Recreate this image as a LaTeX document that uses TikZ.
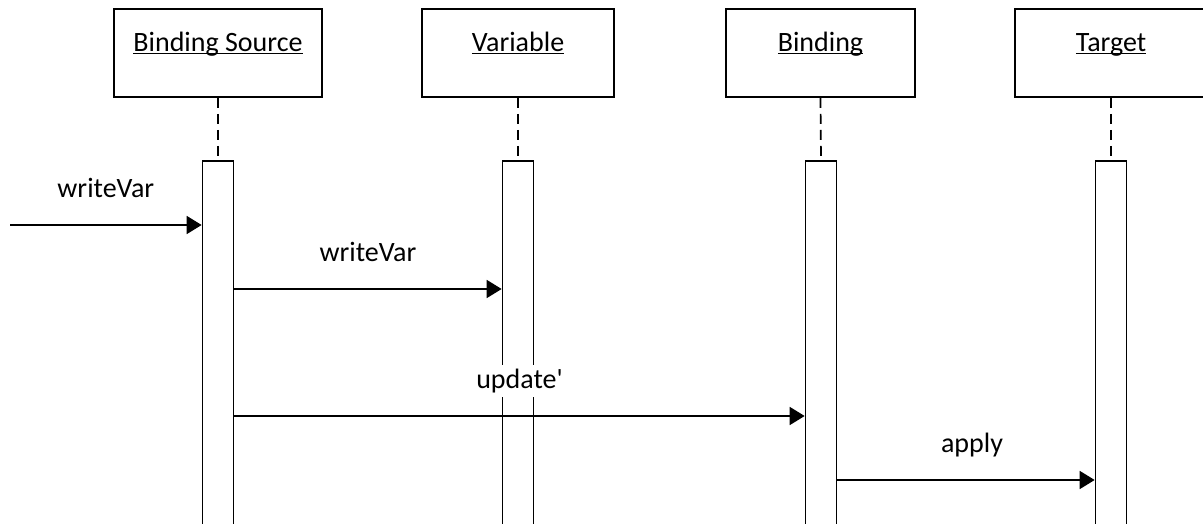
\documentclass[tikz,border=0pt]{standalone}
\usepackage{fontspec}
\setmainfont{Carlito}
\usetikzlibrary{arrows.meta}

\begin{document}
\begin{tikzpicture}[x=1pt,y=-1pt,
    font=\fontsize{28}{34}\selectfont,
    lifebox/.style={draw,line width=1.7pt,minimum width=192pt,minimum height=88pt,inner sep=0pt},
    actbar/.style={draw,fill=white,line width=1.7pt,minimum width=31pt,minimum height=380pt,inner sep=0pt,anchor=north},
    lifeline/.style={line width=1.7pt,dash pattern=on 10pt off 6pt},
    msg/.style={line width=1.7pt,-{Triangle[length=15pt,width=18pt]}},
    msglabel/.style={midway,anchor=base,yshift=28pt,inner sep=4pt}]
      \clip (0,0) rectangle (1203,524);
      % objects
      \node[lifebox,minimum width=208pt] (src) at (218,53) {\underline{\smash{Binding Source}}};
      \node[lifebox] (var) at (518,53) {\underline{\smash{Variable}}};
      \node[lifebox,minimum width=189pt] (bnd) at (820.5,53) {\underline{\smash{Binding}}};
      \node[lifebox] (tgt) at (1111,53) {\underline{\smash{Target}}};
      % activations
      \node[actbar] (srcbar) at (218,160) {};
      \node[actbar] (varbar) at (518,160) {};
      \node[actbar] (bndbar) at (821,160) {};
      \node[actbar] (tgtbar) at (1111,160) {};
      \draw[lifeline] (src.south) -- (srcbar.north);
      \draw[lifeline] (var.south) -- (varbar.north);
      \draw[lifeline] (bnd.south) -- (bndbar.north);
      \draw[lifeline] (tgt.south) -- (tgtbar.north);
      % messages
      \coordinate (m0) at (10,225);
      \coordinate (m1) at (0,289);
      \coordinate (m2) at (0,416);
      \coordinate (m3) at (0,480);
      \draw[msg] (m0) -- (m0 -| srcbar.west) node[msglabel] {writeVar};
      \draw[msg] (srcbar.east |- m1) -- (varbar.west |- m1) node[msglabel] {writeVar};
      \draw[msg] (srcbar.east |- m2) -- (bndbar.west |- m2) node[msglabel,fill=white] {update\textquotesingle};
      \draw[msg] (bndbar.east |- m3) -- (tgtbar.west |- m3) node[msglabel,xshift=6pt] {apply};
\end{tikzpicture}
\end{document}
